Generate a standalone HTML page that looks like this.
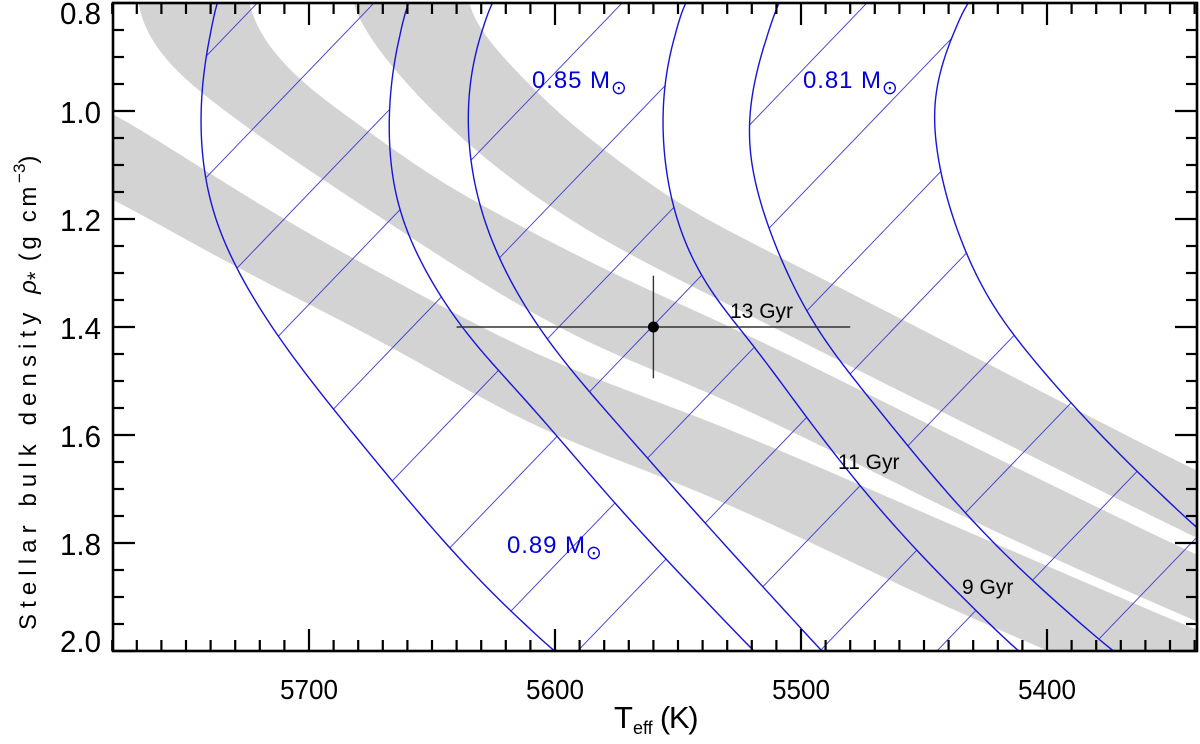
<!DOCTYPE html>
<html><head><meta charset="utf-8">
<style>
html,body{margin:0;padding:0;background:#fff;overflow:hidden;width:1200px;height:744px;}
svg{display:block;font-family:"Liberation Sans","DejaVu Sans",sans-serif;}
</style></head>
<body>
<svg id="chart" width="1200" height="744" viewBox="0 0 1200 744" xmlns="http://www.w3.org/2000/svg" overflow="hidden">
<defs><clipPath id="plotclip"><rect x="113" y="3" width="1084" height="648"/></clipPath></defs>
<g id="bands" clip-path="url(#plotclip)"></g>
<g id="hatch" clip-path="url(#plotclip)"></g>
<g id="tracks" clip-path="url(#plotclip)"></g>
<g id="axes"></g>
<g id="labels"></g>
</svg>
<script>
// ---- data ----
const xTicksMajor = [5700, 5600, 5500, 5400];
const yTicksMajor = [0.8, 1.0, 1.2, 1.4, 1.6, 1.8, 2.0];
const yTickLabels = ["0.8", "1.0", "1.2", "1.4", "1.6", "1.8", "2.0"];

// gray density bands (Teff, rho upper edge / lower edge)
const band1T = [5790, 5779.7, 5744.3, 5703.7, 5663.0, 5622.4, 5581.7, 5532.9, 5459.8, 5419.1, 5339.0, 5320];
const band1Up = [0.985, 1.002, 1.104, 1.220, 1.319, 1.420, 1.502, 1.578, 1.726, 1.804, 1.963, 1.995];
const band1Lo = [1.145, 1.161, 1.254, 1.350, 1.443, 1.554, 1.637, 1.715, 1.881, 1.961, 2.119, 2.150];
const band2UpT = [5725.6, 5724.4, 5721.5, 5713.8, 5699.6, 5676.4, 5649.6, 5622.4, 5568.3, 5532.9, 5459.8, 5419.1, 5339.0, 5320];
const band2Up = [0.757, 0.800, 0.841, 0.896, 0.961, 1.035, 1.124, 1.193, 1.322, 1.387, 1.554, 1.646, 1.824, 1.860];
const band2LoT = [5770.3, 5769.5, 5767.1, 5761.4, 5750.4, 5732.1, 5703.7, 5663.0, 5608.9, 5568.3, 5532.9, 5459.8, 5419.1, 5339.0, 5320];
const band2Lo = [0.757, 0.800, 0.841, 0.887, 0.943, 1.007, 1.100, 1.220, 1.381, 1.467, 1.526, 1.693, 1.785, 1.946, 1.982];
const band3UpT = [5636.4, 5635.4, 5631.3, 5622.4, 5606.1, 5591.1, 5554.5, 5532.9, 5459.8, 5419.1, 5339.0, 5320];
const band3Up = [0.757, 0.800, 0.841, 0.896, 0.970, 1.035, 1.159, 1.215, 1.383, 1.480, 1.669, 1.705];
const band3LoT = [5683.5, 5682.5, 5677.2, 5667.1, 5643.9, 5606.1, 5568.3, 5532.9, 5459.8, 5419.1, 5339.0, 5320];
const band3Lo = [0.757, 0.800, 0.850, 0.915, 1.031, 1.170, 1.270, 1.350, 1.520, 1.609, 1.793, 1.830];

// mass tracks (Teff, rho)
const trackAT = [5737.4, 5743.1, 5745.9, 5743.5, 5738.2, 5728.9, 5712.6, 5689.4, 5666.7, 5643.9, 5619.9, 5599.6];
const trackAR = [0.802, 0.898, 1.009, 1.131, 1.217, 1.304, 1.435, 1.552, 1.685, 1.809, 1.926, 2.002];
const trackBT = [5659.8, 5666.7, 5669.1, 5667.5, 5661.8, 5652.4, 5635.4, 5620.4, 5600.0, 5577.9, 5554.5, 5518.7];
const trackBR = [0.804, 0.893, 1.015, 1.139, 1.220, 1.307, 1.435, 1.484, 1.596, 1.720, 1.835, 2.002];
const trackCT = [5625.6, 5632.5, 5637.0, 5636.2, 5631.3, 5622.8, 5604.9, 5585.0, 5562.6, 5539.8, 5491.1];
const trackCR = [0.802, 0.867, 0.970, 1.080, 1.191, 1.289, 1.435, 1.520, 1.643, 1.763, 2.002];
const trackDT = [5547.2, 5555.7, 5558.5, 5555.7, 5547.2, 5536.6, 5524.7, 5515.5, 5497.6, 5475.2, 5452.4, 5411.0];
const trackDR = [0.804, 0.893, 1.009, 1.157, 1.263, 1.341, 1.406, 1.448, 1.578, 1.698, 1.835, 2.002];
const trackET = [5509.3, 5518.7, 5523.6, 5521.5, 5514.2, 5504.5, 5491.5, 5478.9, 5457.3, 5434.6, 5409.3, 5372.4];
const trackER = [0.804, 0.906, 1.022, 1.106, 1.217, 1.320, 1.435, 1.487, 1.620, 1.744, 1.869, 2.002];
const trackFT = [5432.9, 5441.5, 5446.2, 5447.2, 5444.3, 5437.4, 5430.1, 5421.2, 5410.0, 5391.1, 5365.9, 5339.4];
const trackFR = [0.807, 0.872, 0.970, 1.009, 1.126, 1.217, 1.298, 1.378, 1.435, 1.543, 1.663, 1.770];

// hatch start densities on left track of each pair
const hatchAB = [0.898, 1.124, 1.291, 1.417, 1.552, 1.685, 1.809, 1.926, 2.020, 2.120];
const hatchCD = [1.091, 1.272, 1.422, 1.520, 1.643, 1.763, 1.881, 1.998, 2.113];
const hatchEF = [1.026, 1.217, 1.370, 1.487, 1.620, 1.744, 1.869, 1.978, 2.090];

// measurement
const starT = [5560];
const starR = [1.40];
const starTErr = [80];
const starRErr = [0.095];

// ---- scales ----
const X = t => 309 + (5700 - t) * 2.46;
const Y = r => 3 + (r - 0.8) * 540;
const NS = "http://www.w3.org/2000/svg";
function mk(tag, attrs, parent) {
  const e = document.createElementNS(NS, tag);
  for (const k in attrs) e.setAttribute(k, attrs[k]);
  parent.appendChild(e); return e;
}
function toPx(Ts, Rs) { return Ts.map((t, i) => [X(t), Y(Rs[i])]); }
function smooth(pts, n) {
  const out = [];
  for (let i = 0; i < pts.length - 1; i++) {
    const p0 = pts[Math.max(0, i - 1)], p1 = pts[i], p2 = pts[i + 1], p3 = pts[Math.min(pts.length - 1, i + 2)];
    for (let k = 0; k < n; k++) {
      const t = k / n, t2 = t * t, t3 = t2 * t;
      const f = (a, b, c, d) => 0.5 * ((2 * b) + (-a + c) * t + (2 * a - 5 * b + 4 * c - d) * t2 + (-a + 3 * b - 3 * c + d) * t3);
      out.push([f(p0[0], p1[0], p2[0], p3[0]), f(p0[1], p1[1], p2[1], p3[1])]);
    }
  }
  out.push(pts[pts.length - 1]);
  return out;
}
function relax(pts, passes, w) {
  let p = pts.map(q => q.slice());
  for (let s = 0; s < passes; s++) {
    const q = p.map(v => v.slice());
    for (let i = 1; i < p.length - 1; i++) {
      let sx = 0, sy = 0, c = 0;
      const h = Math.min(w, i, p.length - 1 - i);
      for (let j = i - h; j <= i + h; j++) { sx += p[j][0]; sy += p[j][1]; c++; }
      q[i] = [sx / c, sy / c];
    }
    p = q;
  }
  return p;
}
const pstr = pts => pts.map(p => p[0].toFixed(2) + "," + p[1].toFixed(2)).join(" ");

// ---- bands ----
const gB = document.getElementById("bands");
function band(upT, up, loT, lo, name) {
  const a = relax(smooth(toPx(upT, up), 8), 3, 4), b = relax(smooth(toPx(loT, lo), 8), 3, 4).reverse();
  const el = mk("polygon", { points: pstr(a.concat(b)), fill: "#d3d3d3", stroke: "none" }, gB);
  
  
}
band(band1T, band1Up, band1T, band1Lo, "density-band-1");
band(band2UpT, band2Up, band2LoT, band2Lo, "density-band-2");
band(band3UpT, band3Up, band3LoT, band3Lo, "density-band-3");

// ---- tracks ----
const gT = document.getElementById("tracks");
function extend(pts) {
  const a = pts[0], b = pts[3], c = pts[pts.length - 4], d = pts[pts.length - 1];
  const s1 = 90 / Math.hypot(a[0] - b[0], a[1] - b[1]), s2 = 90 / Math.hypot(d[0] - c[0], d[1] - c[1]);
  return [[a[0] + (a[0] - b[0]) * s1, a[1] + (a[1] - b[1]) * s1]].concat(pts, [[d[0] + (d[0] - c[0]) * s2, d[1] + (d[1] - c[1]) * s2]]);
}
const tracks = {};
function track(Ts, Rs, key) {
  const pts = extend(relax(smooth(toPx(Ts, Rs), 10), 6, 6));
  tracks[key] = pts;
  const el = mk("polyline", { points: pstr(pts), fill: "none", stroke: "#1515d8", "stroke-width": 1.4 }, gT);
  
  
}
track(trackAT, trackAR, "a"); track(trackBT, trackBR, "b");
track(trackCT, trackCR, "c"); track(trackDT, trackDR, "d");
track(trackET, trackER, "e"); track(trackFT, trackFR, "f");

// ---- hatching ----
const gH = document.getElementById("hatch");
function pointAtY(pts, y) {
  for (let i = 0; i < pts.length - 1; i++) {
    const a = pts[i], b = pts[i + 1];
    if ((a[1] - y) * (b[1] - y) <= 0 && a[1] !== b[1]) {
      const t = (y - a[1]) / (b[1] - a[1]); return [a[0] + t * (b[0] - a[0]), y];
    }
  }
  return null;
}
function rayHit(p, d, pts) {
  let best = null;
  for (let i = 0; i < pts.length - 1; i++) {
    const a = pts[i], b = pts[i + 1];
    const ex = b[0] - a[0], ey = b[1] - a[1];
    const den = d[0] * ey - d[1] * ex;
    if (Math.abs(den) < 1e-9) continue;
    const t = ((a[0] - p[0]) * ey - (a[1] - p[1]) * ex) / den;
    const u = ((a[0] - p[0]) * d[1] - (a[1] - p[1]) * d[0]) / den;
    if (t > 0.5 && u >= 0 && u <= 1 && (best === null || t < best)) best = t;
  }
  return best === null ? 300 : best;
}
function hatch(list, lk, rk, name) {
  const dir = [1, -1.04];
  list.forEach(r => {
    const p = pointAtY(tracks[lk], Y(r));
    if (!p) return;
    const t = rayHit(p, dir, tracks[rk]);
    const el = mk("line", { x1: p[0], y1: p[1], x2: p[0] + dir[0] * t, y2: p[1] + dir[1] * t, stroke: "#3a3ad6", "stroke-width": 0.9 }, gH);
    
    
  });
}
hatch(hatchAB, "a", "b", "hatch-line-089");
hatch(hatchCD, "c", "d", "hatch-line-085");
hatch(hatchEF, "e", "f", "hatch-line-081");

// ---- axes ----
const gA = document.getElementById("axes");
for (let t = 5780; t >= 5339; t -= 10) {
  const x = X(t), major = (t % 100 === 0);
  const L = major ? 22 : 11;
  const b = mk("line", { x1: x, y1: 651, x2: x, y2: 651 - L, stroke: "#000", "stroke-width": 2.2 }, gA);
  
  
  const tp = mk("line", { x1: x, y1: 3, x2: x, y2: 3 + L, stroke: "#000", "stroke-width": 2.2 }, gA);
  
  
}
xTicksMajor.forEach(t => {
  const el = mk("text", { x: X(t), y: 699, "text-anchor": "middle", "font-size": 28, fill: "#000", textLength: 58, lengthAdjust: "spacingAndGlyphs" }, gA);
  el.textContent = String(t);
  
  
});
for (let i = 0; i <= 24; i++) {
  const r = 0.8 + i * 0.05, y = Y(r), major = (i % 4 === 0);
  const L = major ? 22 : 11;
  const l = mk("line", { x1: 113, y1: y, x2: 113 + L, y2: y, stroke: "#000", "stroke-width": 2.2 }, gA);
  
  
  const rr = mk("line", { x1: 1197, y1: y, x2: 1197 - L, y2: y, stroke: "#000", "stroke-width": 2.2 }, gA);
  
  
}
yTicksMajor.forEach((r, i) => {
  const yb = Math.min(Math.max(Y(r) + 12, 24), 652);
  const el = mk("text", { x: 101, y: yb, "text-anchor": "end", "font-size": 31, fill: "#000", textLength: 41, lengthAdjust: "spacingAndGlyphs" }, gA);
  el.textContent = yTickLabels[i];
  
  
});
const frame = mk("rect", { x: 113, y: 3, width: 1084, height: 648, fill: "none", stroke: "#000", "stroke-width": 2.6 }, gA);



// ---- measurement ----
const gL = document.getElementById("labels");
starT.forEach((t, i) => {
  const h = mk("line", { x1: X(t + starTErr[i]), y1: Y(starR[i]), x2: X(t - starTErr[i]), y2: Y(starR[i]), stroke: "#333", "stroke-width": 1.4 }, gL);
  
  
  const v = mk("line", { x1: X(t), y1: Y(starR[i] - starRErr[i]), x2: X(t), y2: Y(starR[i] + starRErr[i]), stroke: "#333", "stroke-width": 1.4 }, gL);
  
  
  const c = mk("circle", { cx: X(t), cy: Y(starR[i]), r: 5.5, fill: "#000" }, gL);
  
  
});

// ---- text annotations ----
function txt(x, y, size, fill, name) {
  const e = document.createElementNS(NS, "text");
  e.setAttribute("x", x); e.setAttribute("y", y);
  e.setAttribute("font-size", size); e.setAttribute("fill", fill);
  
  
  gL.appendChild(e); return e;
}
function massLabel(x, y, val, name) {
  const e = txt(x, y, 24, "#0000dd", name);
  e.innerHTML = '<tspan textLength="78" lengthAdjust="spacing">' + val + ' M</tspan><tspan dy="6" font-size="19">⊙</tspan>';
}
massLabel(532, 88, "0.85", "mass-label-085");
massLabel(803, 88, "0.81", "mass-label-081");
massLabel(507, 553, "0.89", "mass-label-089");
function gyr(x, y, s, name) {
  const e = txt(x, y, 21, "#000", name);
  e.textContent = s;
}
gyr(730, 318, "13 Gyr", "age-label-13");
gyr(838, 469, "11 Gyr", "age-label-11");
gyr(962, 594, "9 Gyr", "age-label-9");
const xt = txt(614, 728, 31, "#000", "x-axis-title");
xt.innerHTML = '<tspan>T</tspan><tspan dy="6" font-size="18">eff</tspan><tspan dy="-6" textLength="46" lengthAdjust="spacing"> (K)</tspan>';
const yt = txt(0, 0, 24, "#000", "y-axis-title");
yt.setAttribute("transform", "translate(36,630) rotate(-90)");
yt.setAttribute("text-anchor", "start");
yt.innerHTML = '<tspan textLength="330" lengthAdjust="spacing">Stellar bulk density </tspan><tspan font-style="italic">ρ</tspan><tspan dy="7" font-size="22">*</tspan><tspan dy="-7" textLength="85" lengthAdjust="spacing"> (g cm</tspan><tspan dy="-11" font-size="17">−3</tspan><tspan dy="11">)</tspan>';
</script>
</body></html>
